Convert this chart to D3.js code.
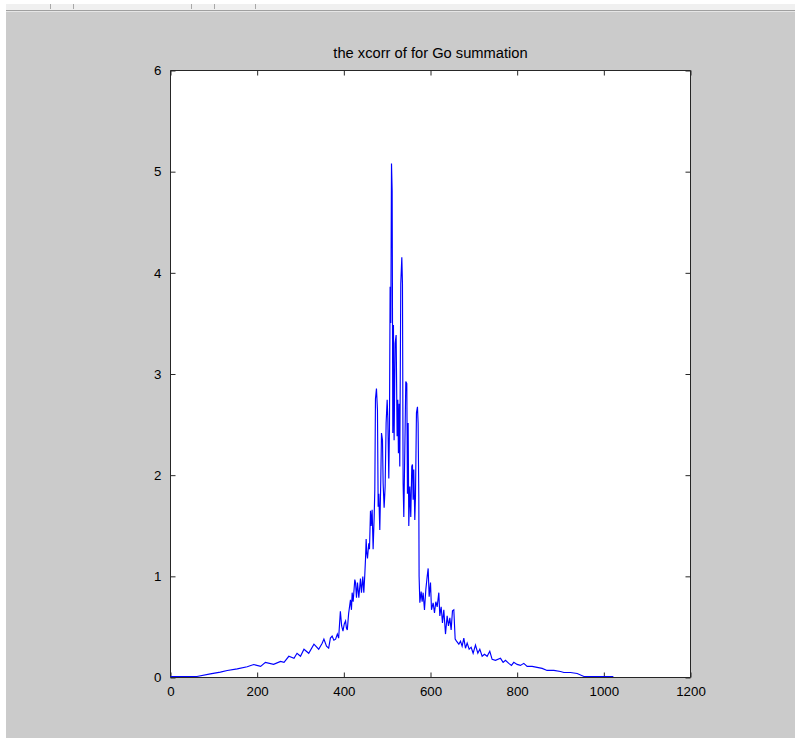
<!DOCTYPE html>
<html>
<head>
<meta charset="utf-8">
<script src="https://cdn.jsdelivr.net/npm/d3@7"></script>
<style>
  html, body { margin: 0; padding: 0; background: #ffffff; }
  svg { display: block; }
</style>
</head>
<body>
<svg id="chart" width="795" height="738"></svg>
<script>
// ---- data ----
const chartTitle = "the xcorr of for Go summation";
const xTicks = [0, 200, 400, 600, 800, 1000, 1200];
const yTicks = [0, 1, 2, 3, 4, 5, 6];

const lags = [
  0, 61, 92, 115, 131, 154, 177, 192, 208, 219, 238, 254, 262, 273, 285, 292, 300, 308, 319, 331,
  342, 350, 354, 360, 365, 369, 373, 377, 381, 385, 388, 392, 395, 398, 401, 404, 406, 408, 411,
  415.3, 417.6, 419.2, 421.5, 425.3, 427, 429.2, 431.5, 434.6, 438.4, 440.7, 443.8, 446.1, 448.4,
  450, 451.5, 453, 454.6, 457.6, 459.2, 461.5, 463, 465.3, 467.6, 470, 471.5, 473, 475.3, 477.6,
  479.2, 480.7, 483, 485.3, 486.9, 489.2, 490.7, 493, 495.3, 497.6, 500, 501.5, 503.8, 505.3,
  506.8, 508.4, 510, 511.5, 513, 514.5, 516, 518.4, 520.7, 523, 524.5, 526, 527.6, 529.1, 531.4,
  533.8, 535.3, 536.8, 538.4, 540.7, 543, 545.3, 546.8, 548.4, 549.9, 552.2, 554.5, 556.8, 558.4,
  559.9, 561.4, 563.8, 565.3, 567.6, 569.9, 571.4, 573, 573.7, 575.4, 578.4, 580.7, 583, 586.1,
  589.2, 592.3, 594.6, 596.9, 600, 602.3, 606.1, 609.2, 612.3, 615.4, 619.2, 621.5, 624.6, 627.6,
  630.7, 634.6, 638.4, 641.5, 644.6, 647.6, 650.7, 653.8, 656.9, 660, 665.4, 669.2, 673, 676.9,
  680.7, 684.6, 689.2, 693.8, 698.4, 703.8, 709.2, 713.8, 719.2, 724.6, 730.7, 736.8, 742.2, 749.9,
  761.5, 767.6, 773, 780.7, 786.8, 792.2, 799.9, 807.6, 815.3, 823, 834.5, 846, 857.6, 869.1,
  876.8, 884.7, 900, 907.8, 915.5, 923, 938.5, 954, 1022
];
const values = [
  0, 0, 0.026, 0.043, 0.059, 0.076, 0.096, 0.119, 0.10, 0.14, 0.12, 0.15, 0.14, 0.20, 0.18, 0.23, 0.20, 0.27, 0.23, 0.32,
  0.27, 0.33, 0.37, 0.30, 0.28, 0.38, 0.40, 0.36, 0.37, 0.42, 0.38, 0.645, 0.50, 0.45, 0.52, 0.55, 0.48, 0.46, 0.62,
  0.76, 0.66, 0.83, 0.74, 0.96, 0.93, 0.78, 0.93, 0.78, 0.97, 0.83, 0.99, 0.83, 1.01,
  1.16, 1.36, 1.22, 1.17, 1.32, 1.26, 1.64, 1.49, 1.65, 1.26, 1.58, 1.85, 2.75, 2.85, 2.64,
  1.68, 1.81, 1.45, 1.95, 2.41, 2.34, 1.91, 1.67, 1.88, 2.51, 2.74, 2.56, 1.96, 2.47,
  3.86, 3.50, 5.08, 4.81, 2.41, 3.48, 2.34, 3.30, 3.38, 2.38, 2.74, 2.21, 2.70, 2.08, 3.89,
  4.15, 3.89, 1.91, 1.58, 2.24, 2.92, 2.90, 1.81, 2.51, 1.49, 1.88, 1.58, 2.08, 2.10,
  1.75, 2.05, 1.55, 1.78, 2.61, 2.67, 2.51, 1.78, 0.99, 0.73, 0.84, 0.74, 0.83, 0.66,
  0.86, 0.99, 1.07, 0.79, 0.93, 0.66, 0.73, 0.63, 0.74, 0.69, 0.83, 0.60, 0.69, 0.53,
  0.66, 0.42, 0.60, 0.50, 0.58, 0.46, 0.65, 0.66, 0.37, 0.35, 0.32, 0.35, 0.30, 0.38,
  0.28, 0.33, 0.27, 0.29, 0.23, 0.31, 0.23, 0.27, 0.20, 0.22, 0.20, 0.25, 0.17, 0.16,
  0.18, 0.14, 0.16, 0.13, 0.11, 0.14, 0.12, 0.11, 0.13, 0.10, 0.10, 0.09, 0.08, 0.06,
  0.06, 0.06, 0.05, 0.04, 0.04, 0.04, 0.03, 0, 0
];

// ---- layout ----
const W = 795, H = 738;
const plot = { left: 170.5, right: 690.5, top: 70.5, bottom: 677.5 };

const svg = d3.select("#chart");

// figure background (MATLAB-like window)
svg.append("rect").attr("x", 0).attr("y", 0).attr("width", W).attr("height", H).attr("fill", "#ffffff");
svg.append("rect").attr("x", 6).attr("y", 0).attr("width", W - 6).attr("height", 10).attr("fill", "#f0f0f0");
svg.append("rect").attr("x", 6).attr("y", 0).attr("width", W - 6).attr("height", 4).attr("fill", "#ffffff");
svg.append("line").attr("x1", 6).attr("x2", W).attr("y1", 10.5).attr("y2", 10.5).attr("stroke", "#a0a0a0");
svg.append("line").attr("x1", 6).attr("x2", W).attr("y1", 11.5).attr("y2", 11.5).attr("stroke", "#e6e6e6");
svg.append("rect").attr("x", 6).attr("y", 12).attr("width", W - 6).attr("height", H - 12).attr("fill", "#cbcbcb");
[50, 73, 191, 214, 255].forEach(px => {
  svg.append("line").attr("x1", px + 0.5).attr("x2", px + 0.5).attr("y1", 4).attr("y2", 9)
    .attr("stroke", "#a8a8a8");
});

// scales
const x = d3.scaleLinear().domain([0, 1200]).range([plot.left, plot.right]);
const y = d3.scaleLinear().domain([0, 6]).range([plot.bottom - 1, plot.top]);

// axes area
svg.append("rect")
  .attr("x", plot.left).attr("y", plot.top)
  .attr("width", plot.right - plot.left).attr("height", plot.bottom - plot.top)
  .attr("fill", "#ffffff");

// axes (ticks inward, mirrored)
const tickLen = 5;
const fontFam = "Arial, 'Liberation Sans', sans-serif";
const yAxisScale = d3.scaleLinear().domain([0, 6]).range([plot.bottom, plot.top]);

const xBottom = d3.axisBottom(x).tickValues(xTicks).tickSize(-tickLen).tickPadding(9).tickFormat(d3.format("d"));
const xTop = d3.axisTop(x).tickValues(xTicks).tickSize(-tickLen).tickFormat("");
const yLeft = d3.axisLeft(yAxisScale).tickValues(yTicks).tickSize(-tickLen).tickPadding(9).tickFormat(d3.format("d"));
const yRight = d3.axisRight(yAxisScale).tickValues(yTicks).tickSize(-tickLen).tickFormat("");

function styleAxis(g) {
  g.selectAll("path").attr("stroke", "#262626").attr("stroke-width", 1);
  g.selectAll("line").attr("stroke", "#262626").attr("stroke-width", 1);
  g.selectAll("text").attr("fill", "#000").style("font-family", fontFam).style("font-size", "13.3px");
}

svg.append("g").attr("transform", `translate(0,${plot.bottom})`).call(xBottom).call(styleAxis)
  .call(g => g.select(".domain").attr("d", `M${plot.left},0H${plot.right}`));
svg.append("g").attr("transform", `translate(0,${plot.top})`).call(xTop).call(styleAxis)
  .call(g => g.select(".domain").attr("d", `M${plot.left},0H${plot.right}`));
svg.append("g").attr("transform", `translate(${plot.left},0)`).call(yLeft).call(styleAxis)
  .call(g => g.select(".domain").attr("d", `M0,${plot.top}V${plot.bottom}`));
svg.append("g").attr("transform", `translate(${plot.right},0)`).call(yRight).call(styleAxis)
  .call(g => g.select(".domain").attr("d", `M0,${plot.top}V${plot.bottom}`));

// data line (drawn above the axes, like the MATLAB plot)
const pts = lags.map((l, i) => [l, values[i]]);
const line = d3.line().x(d => x(d[0])).y(d => y(d[1]));
svg.append("path")
  .datum(pts)
  .attr("d", line)
  .attr("fill", "none")
  .attr("stroke", "#0000ff")
  .attr("stroke-width", 1.15)
  .attr("stroke-linejoin", "miter");

// title
svg.append("text")
  .attr("x", (plot.left + plot.right) / 2)
  .attr("y", 58)
  .attr("text-anchor", "middle")
  .style("font-family", fontFam)
  .style("font-size", "14.7px")
  .attr("fill", "#000")
  .text(chartTitle);
</script>
</body>
</html>
